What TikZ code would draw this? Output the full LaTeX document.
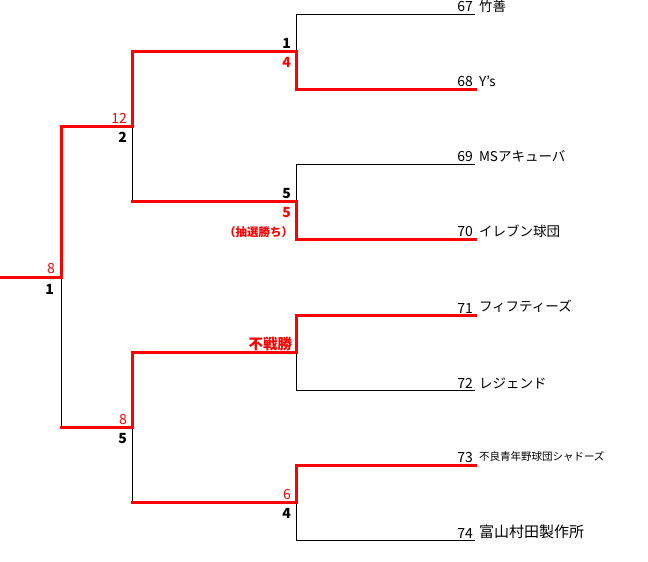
\documentclass[tikz,border=0pt]{standalone}
\usepackage{fontspec}
\setmainfont{Noto Sans CJK JP}
\usepackage{tikz}
\usepackage{xcolor}
\usetikzlibrary{calc,positioning}

\begin{document}
\begin{tikzpicture}[x=1pt,y=-1pt]
      \tikzset{
          every node/.style={inner sep=0pt, outer sep=0pt},
          loseline/.style={draw=black, line width=1pt},
          winline/.style={draw=red, line width=3pt, line cap=rect},
          teamno/.style={font=\fontsize{14}{16}\selectfont},
          teamname/.style={font=\fontsize{13.5}{16}\selectfont},
          score/.style={font=\fontsize{14}{16}\selectfont\bfseries},
          winscore/.style={score, text=red},
          winplain/.style={font=\fontsize{14}{16}\selectfont, text=red},
          winnote/.style={font=\fontsize{11.5}{13}\selectfont\bfseries, text=red},
      }
      \useasboundingbox (0,0) rectangle (648,562);

      % teams
      \coordinate (Leaf67) at (475,14);
      \coordinate (Leaf68) at (475,89);
      \coordinate (Leaf69) at (475,164);
      \coordinate (Leaf70) at (475,239);
      \coordinate (Leaf71) at (475,315);
      \coordinate (Leaf72) at (475,390);
      \coordinate (Leaf73) at (475,465);
      \coordinate (Leaf74) at (475,540);
      % matches
      \coordinate (Match1) at (296,51.5);
      \coordinate (Match2) at (296,201.5);
      \coordinate (Match3) at (296,352.5);
      \coordinate (Match4) at (296,502.5);
      \coordinate (Match5) at (132,126.5);
      \coordinate (Match6) at (132,427.5);
      \coordinate (Match7) at (61,277);
      \coordinate (Start) at (0,277);

      \node[teamno, above left=2pt and 2pt of Leaf67] (No67) {67};
      \node[teamno, above left=2pt and 2pt of Leaf68] (No68) {68};
      \node[teamno, above left=2pt and 2pt of Leaf69] (No69) {69};
      \node[teamno, above left=2pt and 2pt of Leaf70] (No70) {70};
      \node[teamno, above left=2pt and 2pt of Leaf71] (No71) {71};
      \node[teamno, above left=2pt and 2pt of Leaf72] (No72) {72};
      \node[teamno, above left=2pt and 2pt of Leaf73] (No73) {73};
      \node[teamno, above left=2pt and 2pt of Leaf74] (No74) {74};

      \node[teamname, above right=1pt and 4pt of Leaf67] (Name67) {竹善};
      \node[teamname, above right=2pt and 4pt of Leaf68] (Name68) {Y’s};
      \node[teamname, above right=2pt and 4pt of Leaf69] (Name69) {MSアキューバ};
      \node[teamname, above right=1pt and 4pt of Leaf70] (Name70) {イレブン球団};
      \node[teamname, above right=2pt and 4pt of Leaf71] (Name71) {フィフティーズ};
      \node[teamname, above right=1pt and 4pt of Leaf72] (Name72) {レジェンド};
      \node[teamname, font=\fontsize{10.5}{12}\selectfont, above right=4pt and 4pt of Leaf73] (Name73) {不良青年野球団シャドーズ};
      \node[teamname, font=\fontsize{15}{17}\selectfont, above right=1pt and 4pt of Leaf74] (Name74) {富山村田製作所};

      \node[score, above left=3pt and 5pt of Match1] (ScoreA1) {1};
      \node[winscore, below left=6pt and 5pt of Match1] (ScoreB1) {4};
      \node[score, above left=3pt and 5pt of Match2] (ScoreA2) {5};
      \node[winscore, below left=6pt and 5pt of Match2] (ScoreB2) {5};
      \node[winnote, anchor=north east] (Note2) at ([yshift=-9pt, xshift=2pt]ScoreB2.south east) {（抽選勝ち）};
      \node[winnote, font=\fontsize{14.5}{16}\selectfont\bfseries, above left=2pt and 4pt of Match3] (Note3) {不戦勝};
      \node[winplain, above left=3pt and 5pt of Match4] (ScoreA4) {6};
      \node[score, below left=6pt and 5pt of Match4] (ScoreB4) {4};
      \node[winplain, above left=3pt and 5pt of Match5] (ScoreA5) {12};
      \node[score, below left=6pt and 5pt of Match5] (ScoreB5) {2};
      \node[winplain, above left=3pt and 5pt of Match6] (ScoreA6) {8};
      \node[score, below left=6pt and 5pt of Match6] (ScoreB6) {5};
      \node[winplain, above left=3pt and 6pt of Match7] (ScoreA7) {8};
      \node[score, below left=7pt and 7pt of Match7] (ScoreB7) {1};

      % losers
      \path[loseline] (Leaf67) -| (Match1);
      \path[loseline] (Leaf69) -| (Match2);
      \path[loseline] (Leaf72) -| (Match3);
      \path[loseline] (Leaf74) -| (Match4);
      \path[loseline] (Match2 -| Match5) -- (Match5);
      \path[loseline] (Match4 -| Match6) -- (Match6);
      \path[loseline] (Match6 -| Match7) -- (Match7);
      % winners
      \path[winline] (Leaf68) -| (Match1);
      \path[winline] (Leaf70) -| (Match2);
      \path[winline] (Leaf71) -| (Match3);
      \path[winline] (Leaf73) -| (Match4);
      \path[winline] (Match1) -| (Match5);
      \path[winline] (Match2) -- (Match2 -| Match5);
      \path[winline] (Match3) -| (Match6);
      \path[winline] (Match4) -- (Match4 -| Match6);
      \path[winline] (Match5) -| (Match7);
      \path[winline] (Match6) -- (Match6 -| Match7);
      \path[winline] (Match7) -- (Start);

\end{tikzpicture}
\end{document}
